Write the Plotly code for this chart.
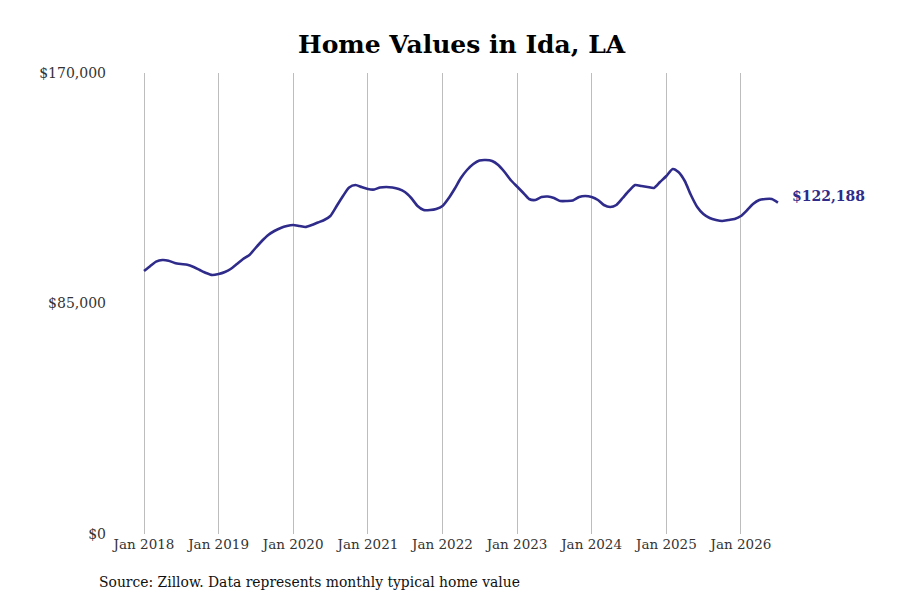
import plotly.graph_objects as go
import pandas as pd

dates = pd.date_range("2018-01-01", periods=103, freq="MS")
values = [
    96984, 98828, 100413, 101040, 100782, 99934, 99565, 99307, 98459, 97353, 96246, 95509,
    95878, 96615, 97721, 99565, 101409, 102884, 105465, 108047, 110259, 111734, 112841, 113578,
    113947, 113578, 113209, 113947, 114869, 115791, 117266, 120953, 124641, 127775, 128697, 127960,
    127222, 127038, 127775, 127960, 127775, 127222, 126116, 123903, 120953, 119478, 119478, 119847,
    120953, 123903, 127222, 131279, 134229, 136441, 137732, 137916, 137547, 136072, 133491, 130541,
    128144, 125747, 123535, 123166, 124272, 124457, 123903, 122797, 122797, 122981, 124272, 124641,
    124272, 123166, 121322, 120585, 121322, 123903, 126485, 128697, 128328, 127960, 127591, 129804,
    132016, 134597, 133491, 130172, 125010, 120585, 118003, 116528, 115791, 115422, 115791, 116159,
    117266, 119478, 121691, 123166, 123535, 123535, 122188,
]
title_text = "Home Values in Ida, LA"
source_text = "Source: Zillow. Data represents monthly typical home value"
y_ticks = [0, 85000, 170000]
y_tick_labels = ["$0", "$85,000", "$170,000"]
x_ticks = [f"{y}-01-01" for y in range(2018, 2027)]
x_tick_labels = [f"Jan {y}" for y in range(2018, 2027)]

line_color = "#2e2b8a"
font_family = "DejaVu Serif"

fig = go.Figure()
fig.add_trace(go.Scatter(
    x=dates, y=values, mode="lines",
    line=dict(color=line_color, width=2.6, shape="spline", smoothing=0.6),
    hoverinfo="skip", showlegend=False,
))
fig.add_annotation(
    x=dates[-1], y=values[-1], text=f"<b>${values[-1]:,}</b>",
    showarrow=False, xanchor="left", xshift=12, yshift=7,
    font=dict(family=font_family, size=14, color=line_color),
)
fig.add_annotation(
    xref="paper", yref="paper", x=-0.026, y=-0.104, xanchor="left", yanchor="middle",
    text=source_text, showarrow=False,
    font=dict(family=font_family, size=13.9, color="#111"),
)
fig.update_layout(
    width=900, height=600,
    margin=dict(l=107, r=98, t=65, b=74),
    paper_bgcolor="white", plot_bgcolor="white",
    title=dict(text=f"<b>{title_text}</b>", x=0.504, xanchor="center", y=0.94, yanchor="middle",
               font=dict(family=font_family, size=25, color="#000")),
    font=dict(family=font_family, size=14, color="#333"),
    xaxis=dict(
        range=["2017-08-12", "2026-12-05"],
        tickvals=x_ticks, ticktext=x_tick_labels,
        showgrid=True, gridcolor="#bdbdbd", gridwidth=1,
        zeroline=False, showline=False, ticks="",
        ticklabelstandoff=0,
        tickfont=dict(family=font_family, size=13.5, color="#333"),
    ),
    yaxis=dict(
        range=[0, 170000], tickvals=y_ticks, ticktext=y_tick_labels,
        showgrid=False, zeroline=False, showline=False, ticks="",
        ticklabelstandoff=8,
        tickfont=dict(family=font_family, size=14, color="#333"),
    ),
)
fig.write_html("out.html")
